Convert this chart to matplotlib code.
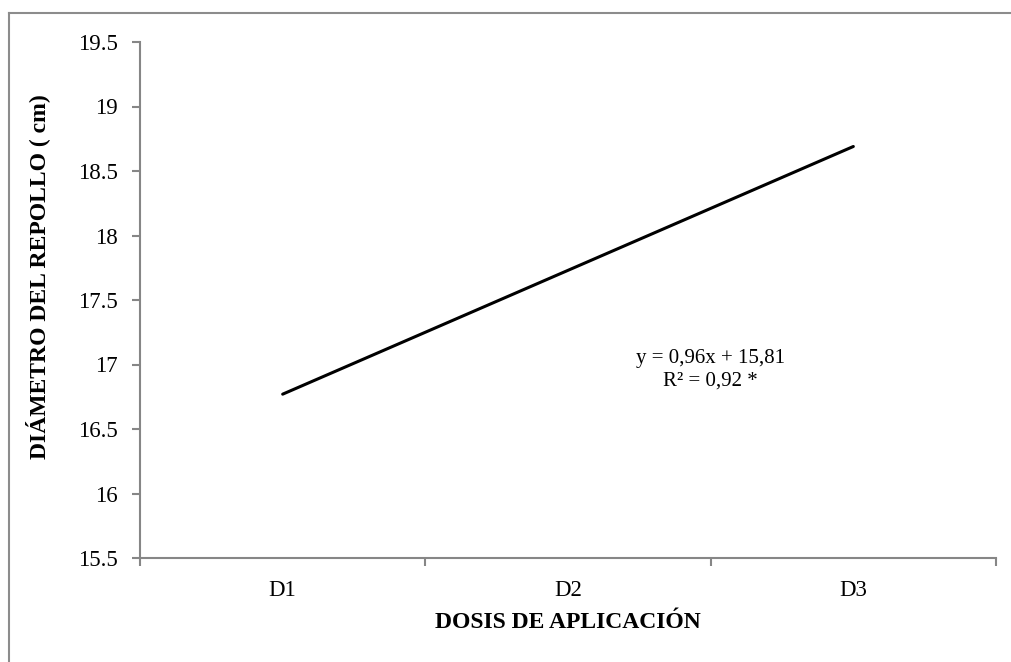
import matplotlib
matplotlib.use("Agg")
import matplotlib.pyplot as plt

categories = ["D1", "D2", "D3"]
trend_values = [16.77, 17.73, 18.69]
y_ticks = [15.5, 16, 16.5, 17, 17.5, 18, 18.5, 19, 19.5]
y_tick_labels = ["15.5", "16", "16.5", "17", "17.5", "18", "18.5", "19", "19.5"]
equation_text = "y = 0,96x + 15,81\nR² = 0,92 *"
x_label = "DOSIS DE APLICACIÓN"
y_label = "DIÁMETRO DEL REPOLLO ( cm)"

plt.rcParams['font.family'] = ['Liberation Serif', 'DejaVu Serif']

fig = plt.figure(figsize=(10.11, 6.62), dpi=100)
W, H = 1011, 662

# outer chart border (only left and top visible in reference)
fig.add_artist(plt.Line2D([9 / W, 9 / W], [0, 1 - 13 / H], transform=fig.transFigure,
                          color="#8c8c8c", lw=1.5))
fig.add_artist(plt.Line2D([9 / W, 1], [1 - 13 / H, 1 - 13 / H], transform=fig.transFigure,
                          color="#8c8c8c", lw=1.5))

left, right = 140 / W, 996 / W
bottom, top = 1 - 558 / H, 1 - 42 / H
ax = fig.add_axes([left, bottom, right - left, top - bottom])

x = list(range(1, len(categories) + 1))
ax.plot(x, trend_values, color="black", lw=2.2, solid_capstyle="round")

ax.set_xlim(0.5, len(categories) + 0.5)
ax.set_ylim(y_ticks[0], y_ticks[-1])
ax.set_yticks(y_ticks)
ax.set_yticklabels(y_tick_labels)

ax.set_xticks(x)
ax.set_xticklabels(categories)
ax.set_xticks([i + 0.5 for i in range(0, len(categories) + 1)], minor=True)
ax.tick_params(axis="x", which="major", length=0, pad=16, labelsize=16.5)
ax.tick_params(axis="x", which="minor", length=6, width=1.5, color="#868686", direction="out")
ax.tick_params(axis="y", length=6, width=1.5, color="#868686", direction="out", pad=10, labelsize=16.5)

for s in ["top", "right"]:
    ax.spines[s].set_visible(False)
for s in ["left", "bottom"]:
    ax.spines[s].set_color("#868686")
    ax.spines[s].set_linewidth(1.5)

ax.text(2.0 + (710 - 568) / 285.3, 16.96, equation_text, ha="center", va="center",
        fontsize=15, linespacing=1.2)

fig.text(568 / W, 1 - 622 / H, x_label, ha="center", va="center",
         fontsize=17, fontweight="bold")
fig.text(38 / W, 1 - 277 / H, y_label, ha="center", va="center", rotation=90,
         fontsize=17, fontweight="bold")

fig.savefig("out.png", dpi=100)
